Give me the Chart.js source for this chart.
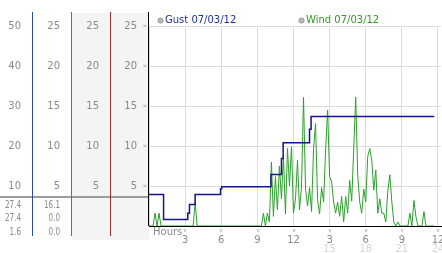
<!DOCTYPE html>
<html>
<head>
<meta charset="utf-8">
<script src="https://cdn.jsdelivr.net/npm/chart.js@4.4.0/dist/chart.umd.min.js"></script>
<style>
html, body { margin: 0; padding: 0; background: #fff; }
</style>
</head>
<body>
<canvas id="myChart" width="442" height="253"></canvas>
<script>
// series names
const seriesNames = ["Gust 07/03/12", "Wind 07/03/12"];

// gust: stepped line, hour where each value starts
const gustHours = [0, 1.21, 3.22, 3.36, 3.83, 5.94, 6.04, 10.13, 11.0, 11.14, 13.33, 13.46, 23.69];
const gustValues = [7.9, 1.6, 3.2, 5.4, 7.9, 9.3, 9.8, 12.9, 16.9, 20.8, 24.2, 27.4, 27.4];

// wind: one reading every 10 minutes from midnight
const windStepMinutes = 10;
const windValues = [
    0, 0, 0, 1.6, 0, 1.6, 0, 0, 0, 0,
    0, 0, 0, 0, 0, 0, 0, 0, 0, 0,
    0, 0, 0, 2.9, 0, 0, 0, 0, 0, 0,
    0, 0, 0, 0, 0, 0, 0, 0, 0, 0,
    0, 0, 0, 0, 0, 0, 0, 0, 0, 0,
    0, 0, 0, 0, 0, 0, 0, 1.6, 0, 1.6,
    0.5, 8.0, 1.2, 6.2, 2.0, 7.5, 3.4, 8.7, 1.5, 9.7,
    5.0, 9.9, 1.6, 3.4, 8.2, 2.0, 4.9, 16.1, 4.6, 2.5,
    4.8, 1.8, 9.7, 12.8, 3.3, 1.5, 4.8, 3.0, 9.5, 14.5,
    6.2, 5.5, 3.0, 1.6, 3.0, 1.2, 3.7, 0.5, 3.7, 1.6,
    5.7, 3.1, 9.5, 16.1, 6.4, 3.0, 1.6, 4.6, 3.0, 8.7,
    9.7, 8.2, 4.5, 7.0, 1.6, 3.4, 1.6, 1.6, 0.5, 4.4,
    6.4, 3.0, 0.5, 0, 0.5, 0, 0, 0, 0, 0,
    1.6, 0, 3.2, 1.2, 0, 0, 0, 1.8, 0, 0,
    0, 0, 0
];

// summary rows under the left axes
const gustSummary = ["27.4", "27.4", "1.6"];
const windSummary = ["16.1", "0.0", "0.0"];

// axis ticks
const hourTicks = [3, 6, 9, 12, 15, 18, 21, 24];
const hoursLabel = "Hours";

const gustPoints = gustHours.map((h, i) => ({ x: h, y: gustValues[i] }));
const windPoints = windValues.map((v, i) => ({ x: i * windStepMinutes / 60, y: v }));

Chart.defaults.font.family = "'DejaVu Sans', Verdana, sans-serif";
Chart.defaults.font.size = 10;

const lineColors = { yg: "#2a48a8", yw: "#2e9a2e", yr: "#a83030", yk: "#000000" };
const legendColors = ["#1d2f9c", "#2f9a22"];

function yAxis(weight, width, max, step) {
    return {
        position: "left",
        weight: weight,
        min: 0,
        max: max,
        afterFit: (s) => { s.width = width; },
        ticks: {
            stepSize: step,
            padding: 12,
            color: "#8a8a8a",
            callback: (v) => v === 0 ? "" : v
        },
        grid: { drawOnChartArea: false, drawTicks: false },
        border: { display: false }
    };
}

const panelPlugin = {
    id: "panel",
    beforeDraw(chart) {
        const ctx = chart.ctx;
        const yr = chart.scales.yr;
        const yk = chart.scales.yk;
        ctx.save();
        ctx.fillStyle = "#f4f4f4";
        ctx.fillRect(yr.left, 13, yk.right - yr.left, 227);
        ctx.restore();
    },
    afterDraw(chart) {
        const ctx = chart.ctx;
        const area = chart.chartArea;
        const xs = chart.scales.x;
        ctx.save();

        // separator line under the axis columns
        ctx.fillStyle = "#9c9c9c";
        ctx.fillRect(0, 196, area.left, 2);

        // column lines
        ["yg", "yw", "yr", "yk"].forEach((id) => {
            const s = chart.scales[id];
            const x = Math.round(s.right) - 0.5;
            ctx.strokeStyle = lineColors[id];
            ctx.lineWidth = 1;
            ctx.beginPath();
            ctx.moveTo(x, 12);
            ctx.lineTo(x, id === "yk" ? area.bottom : 236);
            ctx.stroke();
        });

        // summary values (narrow text)
        ctx.font = "10px 'DejaVu Sans'";
        ctx.fillStyle = "#8a8a8a";
        ctx.textAlign = "right";
        ctx.textBaseline = "middle";
        const rowsY = [205, 218.5, 232];
        const narrow = (t, x, y) => ctx.fillText(t, x, y, ctx.measureText(t).width * 0.72);
        gustSummary.forEach((t, i) => narrow(t, chart.scales.yg.right - 12, rowsY[i]));
        windSummary.forEach((t, i) => narrow(t, chart.scales.yw.right - 12, rowsY[i]));

        // hours label and second row of tick labels
        ctx.textAlign = "left";
        ctx.fillText(hoursLabel, area.left + 4, 232);
        ctx.textAlign = "center";
        ctx.fillStyle = "#d6d6d6";
        hourTicks.forEach((h) => {
            if (h > 12) ctx.fillText(String(h), xs.getPixelForValue(h), 249.5);
        });

        // small tick glyphs
        ctx.fillStyle = "#a0a0a0";
        ctx.font = "7px 'DejaVu Sans'";
        chart.scales.yk.ticks.forEach((t) => {
            if (t.value === 0) return;
            ctx.fillText("\u00bb", area.left - 4, chart.scales.yk.getPixelForValue(t.value));
        });
        hourTicks.forEach((h) => {
            ctx.save();
            ctx.translate(xs.getPixelForValue(h), 230.5);
            ctx.rotate(Math.PI / 2);
            ctx.fillText("\u00bb", 0, 0);
            ctx.restore();
        });

        // legend
        const legendX = [area.left + 11.5, area.left + 152.5];
        ctx.font = "10px 'DejaVu Sans'";
        ctx.textAlign = "left";
        chart.data.datasets.forEach((ds, i) => {
            ctx.beginPath();
            ctx.arc(legendX[i], 20.5, 2.6, 0, Math.PI * 2);
            ctx.fillStyle = "#b8b8b8";
            ctx.fill();
            ctx.strokeStyle = "#8c8c8c";
            ctx.lineWidth = 0.8;
            ctx.stroke();
            ctx.fillStyle = legendColors[i];
            ctx.fillText(ds.label, legendX[i] + 4.5, 20.5);
        });
        ctx.restore();
    }
};

const myChartCanvas = document.getElementById("myChart");

const chartConfig = {
    type: "line",
    data: {
        datasets: [
            {
                label: seriesNames[0],
                data: gustPoints,
                yAxisID: "yg",
                stepped: true,
                borderColor: "#14148c",
                borderWidth: 1.5,
                pointRadius: 0,
                fill: false
            },
            {
                label: seriesNames[1],
                data: windPoints,
                yAxisID: "yw",
                borderColor: "#2aa02a",
                borderWidth: 1,
                pointRadius: 0,
                tension: 0,
                fill: false
            }
        ]
    },
    options: {
        responsive: false,
        animation: false,
        layout: { padding: { top: 26, right: 1, left: 0, bottom: 0 } },
        plugins: {
            legend: { display: false },
            tooltip: { enabled: false }
        },
        scales: {
            x: {
                type: "linear",
                min: 0,
                max: 24.25,
                afterFit: (s) => {
                    s.height = 27;
                    s.paddingLeft = 0;
                    s.paddingRight = 0;
                },
                afterBuildTicks: (s) => {
                    s.ticks = [0].concat(hourTicks).map((v) => ({ value: v }));
                },
                ticks: {
                    padding: 8,
                    color: "#8a8a8a",
                    maxRotation: 0,
                    autoSkip: false,
                    callback: (v) => v === 0 ? "" : String(v % 12 === 0 ? 12 : v % 12)
                },
                grid: { color: "#dcdcdc", drawTicks: false },
                border: { color: "#000", width: 1 }
            },
            yg: yAxis(3, 33, 50, 10),
            yw: yAxis(2, 39, 25, 5),
            yr: yAxis(1, 39, 25, 5),
            yk: Object.assign(yAxis(0, 38, 25, 5), {
                grid: { color: "#dcdcdc", drawTicks: false }
            })
        }
    },
    plugins: [panelPlugin]
};

const myChart = new Chart(myChartCanvas, chartConfig);
</script>
</body>
</html>
